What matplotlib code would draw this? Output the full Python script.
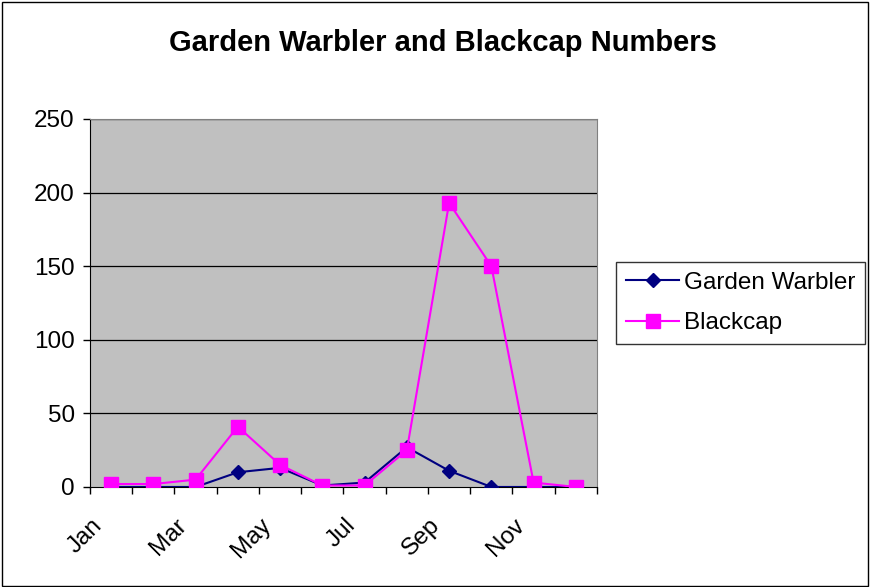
import matplotlib
matplotlib.use('Agg')
import matplotlib.pyplot as plt
import matplotlib.patches as patches
import matplotlib.transforms as mtransforms
import numpy as np

plt.rcParams['font.family'] = ['Liberation Sans', 'DejaVu Sans']

months = ['Jan', 'Feb', 'Mar', 'Apr', 'May', 'Jun',
          'Jul', 'Aug', 'Sep', 'Oct', 'Nov', 'Dec']
garden_warbler = [0, 0, 0, 10, 13, 1, 3, 27, 11, 0, 0, 0]
blackcap = [2, 2, 5, 41, 15, 1, 1, 25, 193, 150, 3, 0]
y_ticks = [0, 50, 100, 150, 200, 250]

fig = plt.figure(figsize=(8.71, 5.87), dpi=100)
ax = fig.add_axes([0.1033, 0.1704, 0.5821, 0.6269])

# outer chart border
fig.patches.append(patches.Rectangle((0.002, 0.002), 0.995, 0.995,
                                     transform=fig.transFigure, fill=False,
                                     edgecolor='black', linewidth=1))

x = np.arange(len(months))
ax.set_facecolor('#c0c0c0')
for yv in y_ticks[1:]:
    ax.axhline(yv, color='black', linewidth=0.9, zorder=1)

ax.plot(x, garden_warbler, color='#000080', marker='D', markersize=7.5,
        linewidth=1.5, label='Garden Warbler', zorder=3)
ax.plot(x, blackcap, color='#ff00ff', marker='s', markersize=9.5,
        linewidth=1.5, label='Blackcap', zorder=4)

ax.set_xlim(-0.5, len(months) - 0.5)
ax.set_ylim(0, 250)
ax.set_yticks(y_ticks)
ax.tick_params(axis='y', labelsize=17.5, direction='out', length=5, width=1, pad=6)

# category labels every other month, ticks on category boundaries
ax.set_xticks(x[::2])
ax.set_xticklabels(months[::2], rotation=45, ha='right',
                   rotation_mode='anchor', fontsize=17.5)
ax.tick_params(axis='x', which='major', length=0, pad=14)
ax.set_xticks(np.arange(-0.5, len(months), 1), minor=True)
ax.tick_params(axis='x', which='minor', direction='out', length=5, width=1)
shift = mtransforms.ScaledTranslation(-0.2, -0.08, fig.dpi_scale_trans)
for lbl in ax.get_xticklabels():
    lbl.set_transform(lbl.get_transform() + shift)

for side in ['top', 'right']:
    ax.spines[side].set_color('#808080')
for side in ['left', 'bottom']:
    ax.spines[side].set_color('black')

fig.text(0.508, 0.926, 'Garden Warbler and Blackcap Numbers',
         ha='center', va='center', fontsize=21, fontweight='bold')

leg = ax.legend(loc='center left', bbox_to_anchor=(1.038, 0.5),
                fontsize=17.5, frameon=True, fancybox=False,
                edgecolor='black', handlelength=2.2, borderpad=0.4,
                labelspacing=0.75, handletextpad=0.2, borderaxespad=0)
leg.get_frame().set_linewidth(1)

fig.savefig('out.png', dpi=100)
